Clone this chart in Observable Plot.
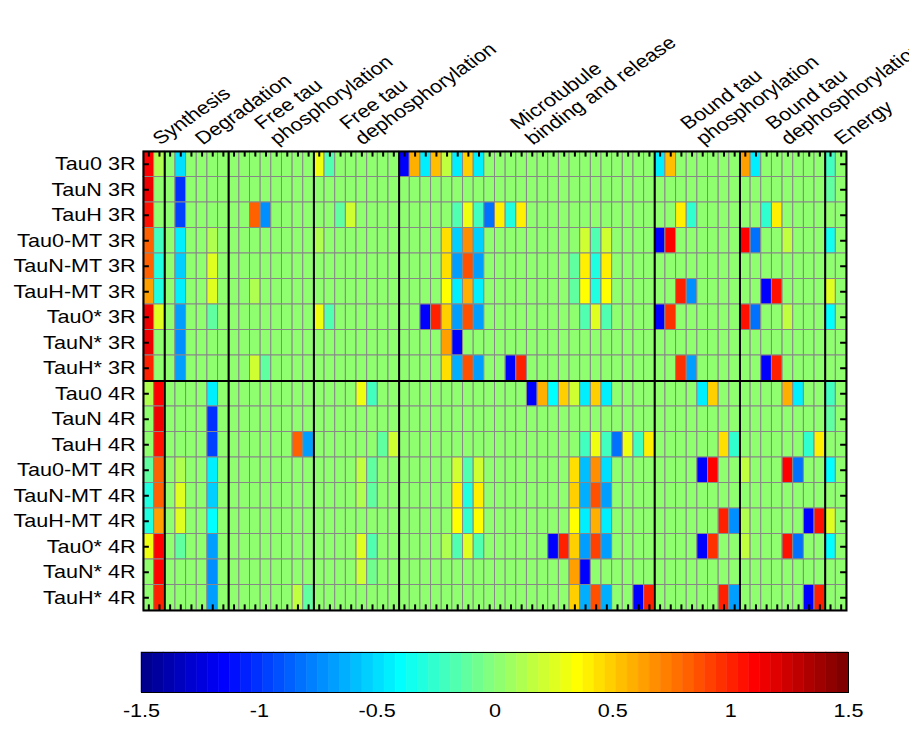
<!DOCTYPE html>
<html><head><meta charset="utf-8">
<script src="https://cdn.jsdelivr.net/npm/d3@7"></script>
<script src="https://cdn.jsdelivr.net/npm/@observablehq/plot@0.6"></script>
<style>
html,body{margin:0;padding:0;background:#fff;overflow:hidden;}
#chart svg{display:block;}
</style></head><body><div id="chart"></div>
<script>
const rowLabels = ["Tau0 3R","TauN 3R","TauH 3R","Tau0-MT 3R","TauN-MT 3R","TauH-MT 3R","Tau0* 3R","TauN* 3R","TauH* 3R",
  "Tau0 4R","TauN 4R","TauH 4R","Tau0-MT 4R","TauN-MT 4R","TauH-MT 4R","Tau0* 4R","TauN* 4R","TauH* 4R"];
const groupLabels = ["Synthesis","Degradation","Free tau\nphosphorylation","Free tau\ndephosphorylation",
  "Microtubule\nbinding and release","Bound tau\nphosphorylation","Bound tau\ndephosphorylation","Energy"];
const groupBounds = [0,2,8,16,24,48,56,64,66];
const nCols = 66;
const colorTicks = [-1.5,-1,-0.5,0,0.5,1,1.5];
// non-zero cells: [row, column, value]; all other cells ~0
const cells = [
[0,0,1.1],[0,1,0.1],[0,3,-0.5],[0,16,0.3],[0,17,-0.15],[0,24,-1.15],[0,25,0.6],[0,26,-0.45],[0,27,0.55],[0,28,0.15],[0,29,-0.45],[0,30,0.5],[0,31,-0.45],[0,48,-0.45],[0,49,0.55],[0,56,0.65],[0,57,-0.45],[0,64,-0.2],
[1,0,1.15],[1,3,-1.0],[1,64,-0.1],
[2,0,1.05],[2,3,-0.95],[2,10,0.8],[2,11,-0.75],[2,18,-0.1],[2,19,0.2],[2,29,-0.15],[2,30,0.3],[2,31,-0.2],[2,32,-0.8],[2,33,0.4],[2,34,-0.3],[2,35,0.4],[2,50,0.4],[2,51,-0.25],[2,58,-0.25],[2,59,0.4],
[3,0,0.8],[3,1,-0.2],[3,3,-0.45],[3,6,0.1],[3,16,0.1],[3,28,0.45],[3,29,-0.55],[3,30,0.7],[3,31,-0.55],[3,41,0.2],[3,42,-0.15],[3,43,0.2],[3,48,-1.15],[3,49,1.1],[3,56,1.1],[3,57,-0.8],[3,60,0.15],[3,64,-0.35],
[4,0,0.8],[4,1,-0.3],[4,3,-0.55],[4,6,0.25],[4,28,0.45],[4,29,-0.7],[4,30,0.85],[4,31,-0.7],[4,40,-0.1],[4,41,0.4],[4,42,-0.3],[4,43,0.4],
[5,0,0.65],[5,1,-0.3],[5,3,-0.45],[5,6,0.25],[5,10,0.12],[5,28,0.35],[5,29,-0.45],[5,30,0.6],[5,31,-0.45],[5,40,-0.1],[5,41,0.35],[5,42,-0.3],[5,43,0.35],[5,50,1.0],[5,51,-0.75],[5,58,-1.15],[5,59,1.05],[5,64,0.25],
[6,0,1.15],[6,1,0.25],[6,3,-0.7],[6,6,-0.1],[6,16,0.3],[6,17,-0.15],[6,26,-1.15],[6,27,1.0],[6,28,0.5],[6,29,-0.7],[6,30,0.85],[6,31,-0.7],[6,41,-0.15],[6,42,0.25],[6,43,-0.15],[6,48,-1.15],[6,49,0.95],[6,56,1.05],[6,57,-0.8],[6,60,0.15],[6,64,-0.4],
[7,0,1.15],[7,3,-0.75],[7,28,0.65],[7,29,-1.15],
[8,0,1.0],[8,3,-0.7],[8,10,0.2],[8,11,-0.1],[8,28,0.45],[8,29,-0.65],[8,30,0.85],[8,31,-0.7],[8,34,-1.15],[8,35,1.0],[8,50,0.95],[8,51,-0.7],[8,58,-1.15],[8,59,1.0],
[9,0,0.1],[9,1,1.1],[9,6,-0.45],[9,20,0.3],[9,21,-0.2],[9,36,-1.15],[9,37,0.6],[9,38,-0.4],[9,39,0.5],[9,40,0.2],[9,41,-0.45],[9,42,0.5],[9,43,-0.45],[9,52,-0.45],[9,53,0.5],[9,60,0.6],[9,61,-0.45],[9,64,-0.2],
[10,1,1.15],[10,6,-1.0],[10,64,-0.1],
[11,1,1.05],[11,6,-0.95],[11,14,0.8],[11,15,-0.7],[11,22,-0.1],[11,23,0.2],[11,41,-0.2],[11,42,0.3],[11,43,-0.2],[11,44,-0.8],[11,45,0.3],[11,46,-0.2],[11,47,0.4],[11,54,0.45],[11,55,-0.25],[11,62,-0.25],[11,63,0.4],
[12,0,-0.1],[12,1,0.8],[12,3,0.1],[12,6,-0.45],[12,20,0.15],[12,21,-0.1],[12,29,0.2],[12,30,-0.15],[12,31,0.2],[12,40,0.45],[12,41,-0.6],[12,42,0.7],[12,43,-0.5],[12,52,-1.15],[12,53,1.1],[12,56,0.15],[12,60,1.1],[12,61,-0.8],[12,64,-0.4],
[13,0,-0.3],[13,1,0.8],[13,3,0.25],[13,6,-0.55],[13,20,0.12],[13,21,-0.1],[13,29,0.4],[13,30,-0.3],[13,31,0.4],[13,40,0.5],[13,41,-0.65],[13,42,0.85],[13,43,-0.7],
[14,0,-0.3],[14,1,0.65],[14,3,0.25],[14,6,-0.4],[14,29,0.35],[14,30,-0.25],[14,31,0.35],[14,40,0.35],[14,41,-0.45],[14,42,0.6],[14,43,-0.45],[14,54,1.0],[14,55,-0.75],[14,56,0.1],[14,62,-1.15],[14,63,1.05],[14,64,0.25],
[15,0,0.3],[15,1,1.1],[15,3,-0.1],[15,6,-0.7],[15,20,0.25],[15,21,-0.15],[15,28,0.1],[15,29,-0.15],[15,30,0.25],[15,31,-0.15],[15,38,-1.15],[15,39,1.0],[15,40,0.5],[15,41,-0.7],[15,42,0.9],[15,43,-0.7],[15,52,-1.15],[15,53,0.95],[15,56,0.15],[15,60,1.05],[15,61,-0.8],[15,64,-0.4],
[16,1,1.1],[16,6,-0.75],[16,20,0.2],[16,21,-0.05],[16,40,0.65],[16,41,-1.15],
[17,1,1.0],[17,6,-0.7],[17,14,0.15],[17,15,-0.1],[17,40,0.5],[17,41,-0.65],[17,42,0.85],[17,43,-0.65],[17,46,-1.15],[17,47,1.0],[17,54,1.0],[17,55,-0.7],[17,62,-1.15],[17,63,1.0]
];

// MATLAB jet(64) colormap
function jetColors(m) {
  const n = Math.ceil(m / 4);
  const u = [];
  for (let i = 1; i <= n; i++) u.push(i / n);
  for (let i = 1; i < n; i++) u.push(1);
  for (let i = n; i >= 1; i--) u.push(i / n);
  const J = Array.from({length: m}, () => [0, 0, 0]);
  const g0 = Math.ceil(n / 2) - (m % 4 === 1 ? 1 : 0);
  u.forEach((v, i) => {
    const g = g0 + i + 1, r = g + n, b = g - n;
    if (g >= 1 && g <= m) J[g - 1][1] = v;
    if (r >= 1 && r <= m) J[r - 1][0] = v;
    if (b >= 1 && b <= m) J[b - 1][2] = v;
  });
  return J.map(([r, g, b]) => `rgb(${Math.round(r*255)},${Math.round(g*255)},${Math.round(b*255)})`);
}
const jet = jetColors(64);
const colorScale = {type: "linear", domain: [-1.5, 1.5], clamp: true,
  interpolate: t => jet[Math.max(0, Math.min(63, Math.floor(t * 64)))]};

const grid = [];
for (let r = 0; r < rowLabels.length; r++) for (let c = 0; c < nCols; c++) grid.push({r, c, v: 0});
for (const [r, c, v] of cells) grid[r * nCols + c].v = v;

const font = "'Liberation Sans', Arial, Helvetica, sans-serif";
const rowCenters = rowLabels.map((d, i) => i + 0.5);
const colCenters = d3.range(nCols).map(i => i + 0.5);
const groups = groupLabels.map((g, i) => ({label: g, x: (groupBounds[i] + groupBounds[i + 1]) / 2}));
const nRows = rowLabels.length;

const heat = Plot.plot({
  width: 909, height: 620,
  marginTop: 151, marginBottom: 10, marginLeft: 143, marginRight: 63,
  style: {fontFamily: font, background: "white", color: "black"},
  x: {domain: [0, nCols], axis: null},
  y: {domain: [0, nRows], reverse: true},
  color: colorScale,
  marks: [
    Plot.rect(grid, {x1: d => d.c, x2: d => d.c + 1, y1: d => d.r, y2: d => d.r + 1, fill: "v", stroke: "#888888", strokeWidth: 1}),
    Plot.ruleX(groupBounds.slice(1, -1), {stroke: "black", strokeWidth: 2}),
    Plot.ruleY([9], {stroke: "black", strokeWidth: 2}),
    Plot.ruleX(colCenters, {x: d => d, y1: 0, y2: 0.22, stroke: "black", strokeWidth: 2}),
    Plot.ruleX(colCenters, {x: d => d, y1: nRows - 0.22, y2: nRows, stroke: "black", strokeWidth: 2}),
    Plot.ruleY(rowCenters, {y: d => d, x1: 0, x2: 0.55, stroke: "black", strokeWidth: 2}),
    Plot.ruleY(rowCenters, {y: d => d, x1: nCols - 0.55, x2: nCols, stroke: "black", strokeWidth: 2}),
    Plot.frame({stroke: "black", strokeWidth: 2}),
    Plot.axisY({ticks: rowCenters, tickFormat: d => rowLabels[Math.floor(d)], tickSize: 0, tickPadding: 8, fontSize: 18, label: null}),
    Plot.text(groups, {x: "x", frameAnchor: "top", dx: 6, dy: -6, text: "label", rotate: -40, textAnchor: "start", lineAnchor: "bottom", fontSize: 18, lineHeight: 1.1})
  ]
});

const bins = d3.range(jet.length).map(k => ({x1: -1.5 + 3 * k / jet.length, x2: -1.5 + 3 * (k + 1) / jet.length}));
const bar = Plot.plot({
  width: 909, height: 115,
  marginTop: 32, marginBottom: 43, marginLeft: 141, marginRight: 61,
  style: {fontFamily: font, background: "white", color: "black"},
  x: {domain: [-1.5, 1.5]},
  color: colorScale,
  marks: [
    Plot.rect(bins, {x1: "x1", x2: "x2", fill: d => (d.x1 + d.x2) / 2, stroke: d => (d.x1 + d.x2) / 2, strokeWidth: 0.5}),
    Plot.frame({stroke: "black", strokeWidth: 1}),
    Plot.axisX({ticks: colorTicks, tickSize: 0, tickPadding: 12, tickFormat: d => String(d), fontSize: 18, label: null})
  ]
});

function stretch(svg, k) {
  svg.querySelectorAll("text").forEach(t => {
    const tr = t.getAttribute("transform");
    if (!tr) return;
    t.setAttribute("transform", /rotate/.test(tr) ? tr.replace("rotate", `scale(${k},1) rotate`) : tr + ` scale(${k},1)`);
  });
}
const root = document.getElementById("chart");
root.appendChild(heat);
root.appendChild(bar);
stretch(heat, 1.2);
stretch(bar, 1.2);
</script></body></html>
